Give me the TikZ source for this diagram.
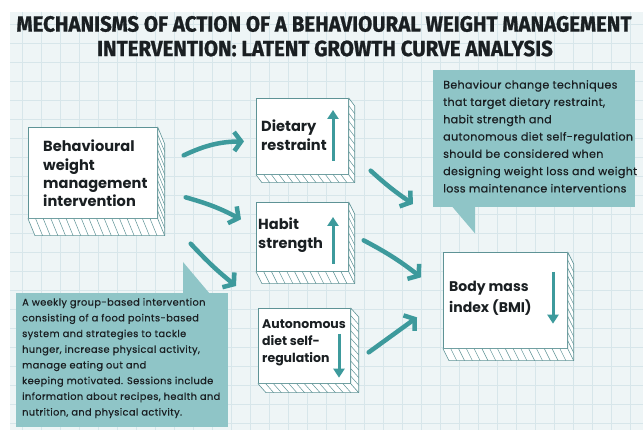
\documentclass[tikz,border=0pt]{standalone}
\usepackage{fontspec}
\setmainfont{Poppins}
\newfontfamily\titlefont{Fira Sans}[FakeStretch=0.93, BoldFeatures={FakeBold=1}]
\newfontfamily\notefont{Poppins}[FakeBold=0.5]
\usetikzlibrary{arrows.meta,calc}

\definecolor{tealarrow}{HTML}{3D9A9C}
\definecolor{notefill}{HTML}{8FC5C7}
\definecolor{paper}{HTML}{EEF5F6}
\definecolor{gridc}{HTML}{D7E6EA}
\definecolor{edge}{HTML}{5E9396}
\definecolor{ink}{HTML}{1A1F22}

\tikzset{
  face/.style={draw=edge, line width=0.7pt, fill=white, inner sep=0pt, anchor=north west},
  boxtext/.style={font=\bfseries\fontsize{14.6}{18.3}\selectfont, align=left, inner sep=0pt, text=ink, anchor=north west},
  notebox/.style={fill=notefill, inner sep=0pt, anchor=north west},
  notetext/.style={align=left, inner sep=0pt, text=ink, anchor=north west},
  flow/.style={tealarrow, line width=4.5pt, line cap=round, -{Straight Barb[length=7pt,width=19pt]}},
  trend/.style={tealarrow, line width=3pt, -{Triangle[length=9pt,width=11pt]}},
  titletext/.style={font=\titlefont\bfseries\fontsize{22}{26}\selectfont, text=ink, inner sep=0pt}
}

% a slab drawn under and to the right of a face node, with hatched edges
\newcommand\slab[5]{%
  \filldraw[draw=edge, fill=white, line width=0.6pt, line join=round]
    (#1.south west) -- (#1.south east) -- (#1.north east) -- ++(#2,#3)
    -- ($(#1.south east)+(#2,#3)$) -- ($(#1.south west)+(#2,#3)$) -- cycle;
  \draw[edge, line width=0.6pt] (#1.south east) -- ++(#2,#3);
  \foreach \k [evaluate=\k as \f using \k/(#4+1)] in {1,...,#4}
    \draw[edge, line width=0.5pt] ($(#1.south west)!\f!(#1.south east)$) -- ++(#2,#3);
  \foreach \k [evaluate=\k as \f using \k/(#5+1)] in {1,...,#5}
    \draw[edge, line width=0.5pt] ($(#1.north east)!\f!(#1.south east)$) -- ++(#2,#3);
}

\begin{document}
\begin{tikzpicture}[x=1pt,y=-1pt]
  \useasboundingbox (0,0) rectangle (643,430);
  \fill[white] (0,0) rectangle (643,430);
  % squared paper
  \fill[paper] (10,12) rectangle (643,430);
  \begin{scope}
    \clip (10,12) rectangle (643,430);
    \foreach \gx in {22,41,...,643} \draw[gridc, line width=0.4pt] (\gx,12) -- (\gx,430);
    \foreach \gy in {24,43,...,430} \draw[gridc, line width=0.4pt] (10,\gy) -- (643,\gy);
  \end{scope}

  % title
  \node[titletext] (title1) at (324,24) {MECHANISMS OF ACTION OF A BEHAVIOURAL WEIGHT MANAGEMENT};
  \node[titletext] (title2) at (325,48.5) {INTERVENTION: LATENT GROWTH CURVE ANALYSIS};

  % faces of the slabs
  \node[face, minimum width=129pt, minimum height=91pt] (interv) at (28,127) {};
  \slab{interv}{7}{17}{16}{11}
  \node[face, minimum width=92pt, minimum height=76pt] (diet) at (256,98) {};
  \slab{diet}{6}{8}{11}{9}
  \node[face, minimum width=92pt, minimum height=69pt] (habit) at (256,202) {};
  \slab{habit}{6}{12}{11}{8}
  \node[face, minimum width=92pt, minimum height=75pt] (auto) at (258,308) {};
  \slab{auto}{8}{9}{11}{9}
  \node[face, minimum width=124pt, minimum height=96pt] (bmi) at (443,252) {};
  \slab{bmi}{6}{12}{15}{11}

  % labels on the faces
  \node[boxtext] (intervtxt) at (43,140) {Behavioural\\weight\\management\\intervention};
  \node[boxtext] (diettxt) at (261,120) {Dietary\\restraint};
  \node[boxtext] (habittxt) at (258,218) {Habit\\strength};
  \node[boxtext, font=\bfseries\fontsize{12.5}{17}\selectfont] (autotxt) at (262,320) {Autonomous\\diet self-\\regulation};
  \node[boxtext, font=\bfseries\fontsize{14}{21}\selectfont] (bmitxt) at (449,281) {Body mass\\index (BMI)};

  % direction of change
  \draw[trend] ($(diet.south west)+(77,-14)$) -- ($(diet.north west)+(77,12)$);
  \draw[trend] ($(habit.south west)+(77,-8)$) -- ($(habit.north west)+(77,15)$);
  \draw[trend] ($(auto.north west)+(81,26)$) -- ($(auto.south west)+(81,-6)$);
  \draw[trend] ($(bmi.north west)+(110,20)$) -- ($(bmi.south west)+(110,-25)$);

  % pathways
  \draw[flow] ($(interv.east)+(26,-17.5)$) to[bend left=12] ($(diet.west)+(-12,5)$);
  \draw[flow] ($(interv.east)+(28,24.5)$) to[bend left=6] ($(habit.west)+(-15,-17.5)$);
  \draw[flow] ($(interv.south east)+(33,25)$) to[bend right=4] ($(auto.north west)+(-22,-22)$);
  \draw[flow] ($(diet.south east)+(22,-4)$) to[bend right=4] ($(bmi.north west)+(-30,-48)$);
  \draw[flow] ($(habit.east)+(15,3.5)$) to[bend left=5] ($(bmi.west)+(-22,-23)$);
  \draw[flow] ($(auto.east)+(18,6.5)$) -- ($(bmi.west)+(-26,17)$);

  % notes
  \node[notebox, minimum width=202pt, minimum height=137pt] (noteR) at (433,70) {};
  \fill[notefill] ($(noteR.south west)+(19,-1)$) -- ($(noteR.south west)+(42,26)$) -- ($(noteR.south west)+(42,-1)$) -- cycle;
  \node[notetext, font=\notefont\addfontfeature{LetterSpace=3}\fontsize{11.1}{17.3}\selectfont] (noteRtxt) at (443,80)
    {Behaviour change techniques\\that target dietary restraint,\\habit strength and\\autonomous diet self-regulation\\should be considered when\\designing weight loss and weight\\loss maintenance interventions};

  \node[notebox, minimum width=212pt, minimum height=134pt] (noteL) at (16,293) {};
  \fill[notefill] ($(noteL.north west)+(167,1)$) -- ($(noteL.north west)+(167,-31)$) -- ($(noteL.north west)+(194,1)$) -- cycle;
  \node[notetext, font=\notefont\addfontfeature{LetterSpace=4}\fontsize{9.8}{15.7}\selectfont] (noteLtxt) at (22,298)
    {A weekly group-based intervention\\consisting of a food points-based\\system and strategies to tackle\\hunger, increase physical activity,\\manage eating out and\\keeping motivated. Sessions include\\information about recipes, health and\\nutrition, and physical activity.};
\end{tikzpicture}
\end{document}
